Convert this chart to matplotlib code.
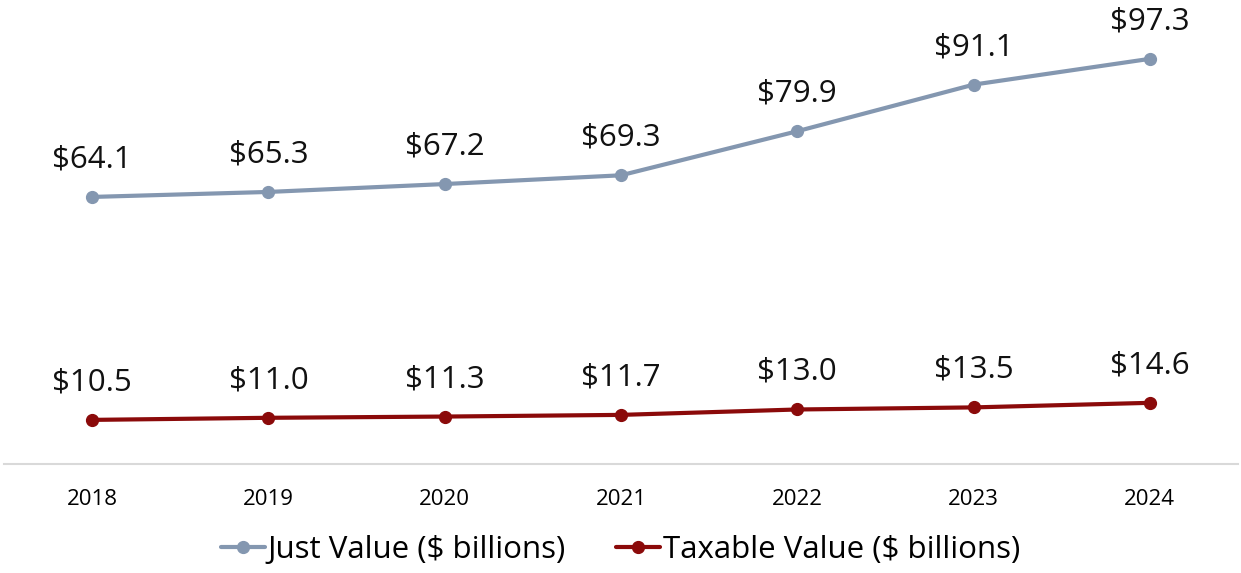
import matplotlib.pyplot as plt

years = ["2018", "2019", "2020", "2021", "2022", "2023", "2024"]
just_value = [64.1, 65.3, 67.2, 69.3, 79.9, 91.1, 97.3]
taxable_value = [10.5, 11.0, 11.3, 11.7, 13.0, 13.5, 14.6]

JUST_COLOR = "#8497B0"
TAX_COLOR = "#8B0A0A"

plt.rcParams["font.family"] = ["Open Sans", "DejaVu Sans"]

fig = plt.figure(figsize=(12.41, 5.73), dpi=100)
ax = fig.add_axes([4 / 1241, 0.191, 1234 / 1241, 0.7985])

x = list(range(len(years)))
series = [
    (just_value, JUST_COLOR, "Just Value ($ billions)"),
    (taxable_value, TAX_COLOR, "Taxable Value ($ billions)"),
]
for values, color, label in series:
    ax.plot(x, values, color=color, lw=3.0, marker="o", ms=8.5, label=label,
            solid_capstyle="round")
    for xi, v in zip(x, values):
        ax.annotate(f"${v:.1f}", (xi, v), xytext=(0, 27), textcoords="offset points",
                    ha="center", va="center", fontsize=22.5, color="#111111")

ax.set_xlim(-0.5, len(years) - 0.5)
ax.set_ylim(0, 110)
ax.set_xticks(x)
ax.set_xticklabels(years, fontsize=16)
ax.tick_params(axis="x", length=0, pad=18)
ax.set_yticks([])
for side in ["top", "right", "left"]:
    ax.spines[side].set_visible(False)
ax.spines["bottom"].set_color("#D9D9D9")
ax.spines["bottom"].set_linewidth(1.5)

fig.legend(loc="center", bbox_to_anchor=(0.5, 0.04), ncol=2, frameon=False,
           fontsize=22.5, handlelength=1.4, handletextpad=0.1, columnspacing=1.6)

fig.savefig("out.png", dpi=100)
